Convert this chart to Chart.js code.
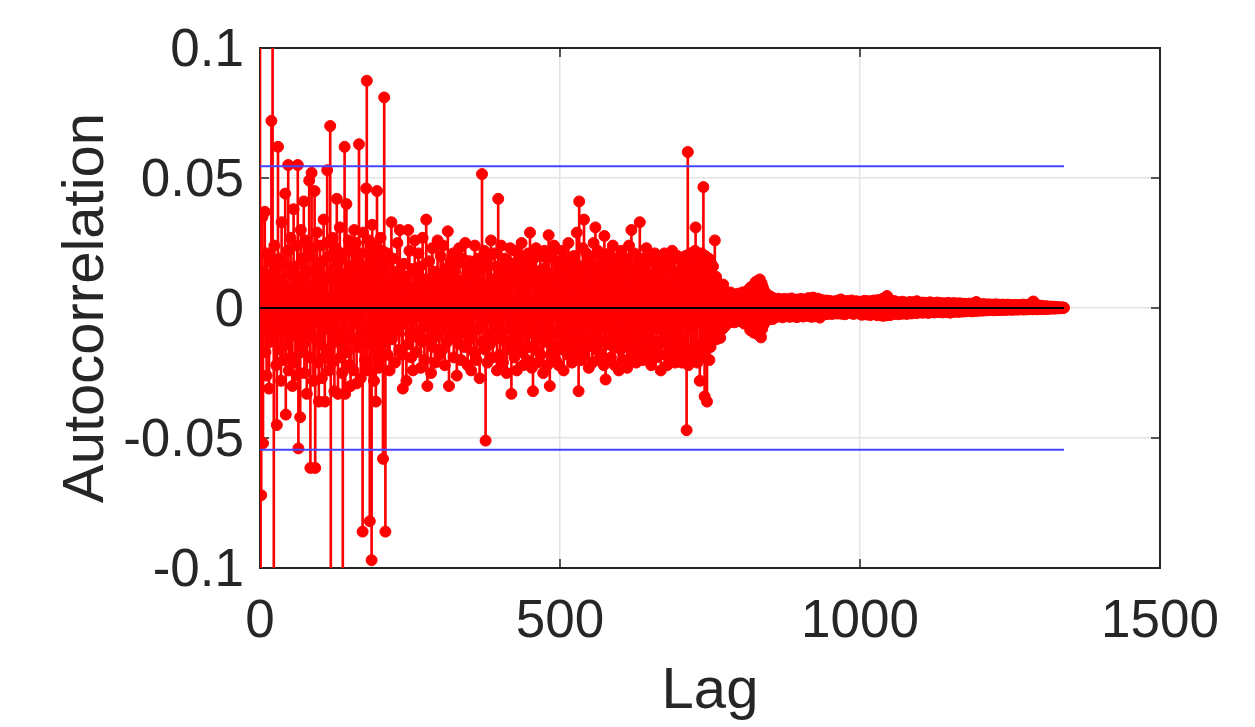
<!DOCTYPE html>
<html>
<head>
<meta charset="utf-8">
<script src="https://cdn.jsdelivr.net/npm/chart.js@4"></script>
<style>
	html, body { margin: 0; padding: 0; background: #fff; }
	canvas { display: block; }
</style>
</head>
<body>
<canvas id="acfChart" width="1255" height="727"></canvas>
<script>
// sample autocorrelation, one value per lag (lag 0 first)
const acf = [
	// lag 0
	1.0, -0.45, -0.072, 0.011, 0.035, -0.052, 0.014, -0.008, 0.037, -0.017, 0.005, -0.026, 0.021, -0.004, 0.012, -0.031, 0.003, 0.018, -0.013, 0.072,
	// lag 20
	-0.009, 0.14, 0.010, -0.13, 0.024, -0.003, 0.015, -0.022, -0.045, 0.006, 0.062, -0.016, 0.019, -0.002, 0.011, -0.028, 0.033, -0.009, 0.004, -0.020,
	// lag 40
	0.017, -0.006, 0.044, -0.041, 0.008, -0.014, 0.022, 0.055, -0.024, 0.002, -0.011, 0.027, -0.019, 0.013, -0.030, 0.005, 0.038, -0.008, 0.016, -0.021,
	// lag 60
	0.009, -0.026, 0.024, 0.055, -0.054, 0.012, -0.004, -0.042, 0.030, -0.010, 0.019, -0.017, 0.003, 0.041, -0.025, 0.007, -0.013, 0.026, -0.033, 0.014,
	// lag 80
	-0.007, 0.020, 0.049, -0.019, -0.0615, 0.008, 0.052, -0.011, 0.023, -0.028, 0.005, 0.045, -0.0615, 0.013, -0.005, 0.029, -0.021, 0.010, -0.036, 0.016,
	// lag 100
	0.024, -0.014, 0.007, -0.027, 0.018, -0.002, 0.034, -0.019, -0.036, 0.012, -0.008, 0.025, 0.053, -0.016, 0.004, -0.024, 0.020, 0.070, -0.12, 0.011,
	// lag 120
	-0.021, 0.027, -0.006, 0.015, -0.032, 0.008, 0.023, -0.013, 0.042, -0.009, -0.033, 0.018, -0.003, 0.031, -0.019, 0.006, 0.021, -0.025, -0.115, 0.013,
	// lag 140
	-0.010, 0.062, -0.033, 0.004, 0.040, -0.017, 0.011, -0.004, 0.026, -0.022, 0.016, -0.030, 0.007, 0.022, -0.012, 0.003, -0.024, 0.030, -0.006, 0.014,
	// lag 160
	0.025, -0.029, 0.009, -0.015, 0.018, 0.063, -0.011, 0.005, -0.027, 0.021, 0.013, -0.086, 0.029, -0.008, 0.016, -0.020, 0.004, 0.046, 0.0874, -0.024,
	// lag 180
	0.011, -0.014, 0.026, -0.082, 0.006, 0.018, -0.097, 0.032, -0.010, 0.022, -0.028, 0.004, 0.024, -0.036, 0.014, 0.045, -0.016, 0.008, -0.023, 0.020,
	// lag 200
	-0.006, 0.027, -0.019, 0.012, 0.022, -0.058, 0.007, 0.081, -0.013, -0.086, 0.017, -0.009, 0.021, -0.018, 0.005, 0.019, -0.024, 0.010, -0.007, 0.033,
	// lag 220
	-0.012, 0.004, 0.019, -0.006, 0.011, -0.021, 0.008, -0.003, 0.014, 0.025, -0.009, 0.002, -0.016, 0.030, -0.007, 0.013, 0.005, -0.018, -0.031, 0.010,
	// lag 240
	0.017, -0.005, 0.003, 0.012, -0.028, 0.009, -0.014, 0.030, -0.002, 0.022, -0.010, 0.006, -0.019, 0.001, 0.015, -0.024, 0.007, -0.004, 0.026, -0.011,
	// lag 260
	0.008, -0.017, 0.013, -0.002, 0.021, 0.004, -0.009, 0.016, -0.023, 0.006, -0.013, 0.027, 0.003, -0.007, -0.020, 0.011, -0.004, 0.034, 0.009, -0.030,
	// lag 280
	0.005, -0.012, 0.018, 0.002, -0.006, -0.025, 0.010, 0.023, -0.015, 0.004, -0.008, 0.014, -0.021, 0.007, 0.001, -0.011, 0.026, -0.005, 0.012, -0.018,
	// lag 300
	0.009, 0.020, -0.003, 0.006, -0.016, 0.024, -0.008, 0.002, -0.022, 0.015, -0.005, 0.011, -0.013, 0.0295, 0.004, -0.030, 0.013, -0.002, 0.018, -0.010,
	// lag 320
	0.003, -0.007, 0.021, -0.019, 0.008, 0.014, -0.004, 0.001, -0.026, 0.017, -0.011, 0.005, 0.023, -0.014, 0.010, -0.020, 0.006, -0.003, 0.019, -0.009,
	// lag 340
	0.011, -0.015, 0.025, -0.006, 0.002, 0.013, -0.022, 0.008, -0.004, 0.018, -0.012, 0.003, -0.024, 0.016, 0.007, -0.009, 0.012, -0.017, 0.024, -0.002,
	// lag 360
	0.014, -0.020, 0.004, 0.019, -0.008, 0.010, -0.027, 0.006, -0.001, 0.015, 0.0515, -0.013, 0.009, -0.005, 0.022, -0.016, -0.051, 0.003, 0.017, -0.021,
	// lag 380
	0.007, -0.004, 0.020, -0.014, 0.002, 0.026, -0.010, 0.011, -0.019, 0.005, -0.003, 0.021, -0.012, 0.008, 0.016, -0.024, 0.010, 0.042, -0.007, 0.013,
	// lag 400
	-0.018, 0.006, 0.024, -0.011, 0.003, -0.021, 0.015, -0.002, 0.019, -0.013, 0.009, -0.025, 0.004, 0.018, -0.008, 0.012, -0.016, 0.023, -0.005, -0.033,
	// lag 420
	0.010, 0.017, -0.012, 0.002, -0.019, 0.022, -0.006, 0.013, -0.024, 0.015, 0.003, -0.014, 0.020, -0.009, 0.006, -0.017, 0.025, -0.004, 0.011, -0.022,
	// lag 440
	0.008, -0.011, 0.018, -0.002, 0.014, -0.020, 0.005, 0.021, -0.015, 0.009, 0.029, -0.007, 0.016, -0.023, 0.003, -0.032, 0.019, -0.010, 0.012, -0.016,
	// lag 460
	0.023, -0.005, 0.009, -0.021, 0.014, -0.012, 0.002, 0.020, -0.018, 0.011, -0.006, 0.015, -0.025, 0.007, 0.022, -0.013, 0.010, -0.008, 0.019, -0.022,
	// lag 480
	0.006, 0.028, -0.011, -0.030, 0.013, -0.004, 0.021, -0.017, 0.008, -0.014, 0.024, -0.003, 0.012, -0.020, 0.005, 0.018, -0.010, 0.004, -0.022, 0.015,
	// lag 500
	-0.008, 0.011, -0.016, 0.022, -0.004, 0.007, -0.024, 0.015, 0.003, -0.012, 0.019, -0.009, 0.006, -0.018, 0.025, -0.005, 0.013, -0.014, 0.009, 0.018,
	// lag 520
	-0.021, 0.004, -0.011, 0.020, -0.006, 0.014, -0.017, 0.010, 0.029, -0.013, 0.005, -0.032, 0.041, -0.008, 0.016, -0.020, 0.012, -0.003, 0.023, -0.012,
	// lag 540
	0.034, -0.018, 0.008, -0.006, 0.021, -0.015, 0.003, 0.017, -0.023, 0.011, -0.005, 0.019, -0.012, 0.006, -0.021, 0.014, 0.025, -0.009, 0.004, 0.031,
	// lag 560
	-0.016, 0.012, -0.007, 0.022, -0.020, 0.005, 0.016, -0.013, 0.010, -0.018, 0.020, -0.003, 0.013, -0.022, 0.0277, -0.008, -0.0275, 0.011, -0.005, 0.017,
	// lag 580
	-0.014, 0.006, 0.021, -0.010, 0.004, -0.019, 0.015, -0.006, 0.024, -0.015, 0.009, -0.022, 0.012, 0.002, -0.012, 0.019, -0.008, 0.016, -0.024, 0.005,
	// lag 600
	0.013, -0.016, 0.022, -0.004, 0.010, -0.020, 0.017, -0.011, 0.003, 0.019, -0.014, 0.007, -0.023, 0.013, -0.006, 0.024, -0.012, 0.005, -0.019, 0.030,
	// lag 620
	-0.009, 0.015, -0.016, 0.008, 0.021, -0.007, 0.012, -0.021, 0.004, -0.013, 0.018, -0.005, 0.014, 0.033, -0.017, 0.009, -0.010, 0.019, -0.020, 0.006,
	// lag 640
	0.016, -0.014, 0.007, -0.006, 0.023, -0.019, 0.011, 0.004, -0.015, 0.020, -0.009, 0.013, -0.022, 0.005, 0.018, -0.013, 0.008, -0.017, 0.021, -0.004,
	// lag 660
	0.012, -0.019, 0.016, -0.008, 0.003, 0.020, -0.014, 0.010, -0.024, 0.013, -0.005, 0.017, -0.012, 0.007, 0.021, -0.018, 0.004, -0.010, 0.015, -0.022,
	// lag 680
	0.009, 0.018, -0.013, 0.005, -0.019, 0.015, -0.007, 0.022, -0.016, 0.010, -0.004, 0.019, -0.021, 0.012, 0.003, -0.014, 0.020, -0.009, 0.006, -0.018,
	// lag 700
	0.014, -0.012, 0.019, -0.021, 0.007, 0.016, -0.015, 0.011, -0.006, 0.020, -0.019, -0.047, 0.012, 0.060, -0.022, 0.015, -0.008, 0.021, -0.016, 0.009,
	// lag 720
	-0.020, 0.017, -0.007, 0.012, -0.018, 0.022, 0.031, -0.014, 0.008, -0.021, 0.016, -0.005, 0.019, -0.028, 0.010, -0.015, 0.021, -0.019, 0.013, 0.0465,
	// lag 740
	-0.016, -0.034, 0.020, -0.012, 0.015, -0.036, 0.018, -0.013, 0.019, -0.020, 0.012, -0.015, 0.017, -0.010, 0.008, 0.016, -0.012, 0.006, 0.026, -0.009,
	// lag 760
	0.012, -0.012, 0.010, -0.008, 0.009, -0.010, 0.007, -0.0115, 0.008, -0.006, 0.007, -0.008, 0.009, -0.005, 0.006, -0.007, 0.005, -0.006, 0.006, -0.004,
	// lag 780
	0.005, -0.005, 0.004, -0.0055, 0.006, -0.003, 0.0045, -0.005, 0.005, -0.004, 0.0035, -0.0055, 0.005, -0.003, 0.004, -0.005, 0.0055, -0.004, 0.003, -0.0045,
	// lag 800
	0.005, -0.004, 0.0035, -0.005, 0.006, -0.0035, 0.0045, -0.006, 0.005, -0.004, 0.006, -0.005, 0.0065, -0.0045, 0.007, -0.006, 0.0055, -0.0085, 0.008, -0.006,
	// lag 820
	0.0075, -0.007, 0.0085, -0.0095, 0.009, -0.008, 0.010, -0.0085, 0.0095, -0.010, 0.0105, -0.009, 0.009, 0.011, -0.0105, -0.0113, 0.0095, -0.008, 0.008, -0.0065,
	// lag 840
	0.0065, -0.0055, 0.006, -0.005, 0.0045, -0.004, 0.005, -0.0045, 0.004, -0.0035, 0.0045, -0.004, 0.0038, -0.003, 0.004, -0.0042, 0.0035, -0.0028, 0.003, -0.0035,
	// lag 860
	0.0032, -0.0025, 0.0028, -0.0033, 0.0036, -0.002, 0.0025, -0.003, 0.0033, -0.0028, 0.0022, -0.0036, 0.003, -0.0018, 0.0035, -0.0027, 0.0026, -0.0031, 0.002, -0.0024,
	// lag 880
	0.0034, -0.0022, 0.0029, -0.0034, 0.0024, -0.0019, 0.0037, -0.0028, 0.0021, -0.0032, 0.0027, -0.0015, 0.0031, -0.0026, 0.0019, -0.0035, 0.0033, -0.0021, 0.0025, -0.003,
	// lag 900
	0.0029, -0.0024, 0.0035, -0.0018, 0.0022, -0.0033, 0.0031, -0.0027, 0.0017, -0.0022, 0.0034, -0.0029, 0.0026, -0.0016, 0.0038, -0.0031, 0.0023, -0.0025, 0.003, -0.0034,
	// lag 920
	0.0027, -0.002, 0.0040, -0.0028, 0.0021, -0.0032, 0.0033, -0.0017, 0.0025, -0.003, 0.0036, -0.0023, 0.0019, -0.0037, 0.0028, -0.0021, 0.0031, -0.0026, 0.0022, -0.0019,
	// lag 940
	0.0026, -0.0018, 0.0021, -0.0024, 0.0029, -0.0014, 0.0018, -0.0022, 0.0024, -0.0012, 0.0027, -0.002, 0.0016, -0.0023, 0.0022, -0.0011, 0.0025, -0.0019, 0.0014, -0.0021,
	// lag 960
	0.0023, -0.0015, 0.0028, -0.0021, 0.0017, -0.0013, 0.0024, -0.0018, 0.0033, -0.0022, 0.0015, -0.0016, 0.0026, -0.0011, 0.0021, -0.0024, 0.0018, -0.0014, 0.0027, -0.0019,
	// lag 980
	0.002, -0.0012, 0.0025, -0.002, 0.0016, -0.0017, 0.0029, -0.0013, 0.0019, -0.0023, 0.0024, -0.0015, 0.0017, -0.0019, 0.0026, -0.001, 0.0022, -0.0021, 0.0018, -0.0016,
	// lag 1000
	0.0023, -0.0018, 0.0017, -0.0026, 0.0025, -0.0014, 0.002, -0.0022, 0.0028, -0.0017, 0.0015, -0.0025, 0.0023, -0.0012, 0.0026, -0.002, 0.0019, -0.0027, 0.0022, -0.0015,
	// lag 1020
	0.0027, -0.0021, 0.0018, -0.0016, 0.0029, -0.0024, 0.0021, -0.0013, 0.0025, -0.0028, 0.003, -0.0019, 0.0024, -0.0022, 0.0032, -0.0017, 0.0026, -0.0029, 0.0035, -0.003,
	// lag 1040
	0.0031, -0.0021, 0.0038, -0.0026, 0.0042, 0.0046, -0.0028, 0.0039, -0.0023, 0.0033, -0.0027, 0.0028, -0.0019, 0.0025, -0.0024, 0.0021, -0.0016, 0.0027, -0.0022, 0.0018,
	// lag 1060
	-0.0021, 0.0023, -0.0014, 0.002, -0.0024, 0.0017, -0.0018, 0.0022, -0.0013, 0.0019, -0.0022, 0.0024, -0.0016, 0.0015, -0.002, 0.0021, -0.0011, 0.0018, -0.0023, 0.0016,
	// lag 1080
	-0.0017, 0.002, -0.0012, 0.0023, -0.0019, 0.0014, -0.0021, 0.0019, -0.0015, 0.0022, -0.0018, 0.0017, -0.001, 0.0024, -0.002, 0.0026, -0.0014, 0.0018, -0.0017, 0.0015,
	// lag 1100
	-0.0016, 0.0019, -0.0011, 0.0016, -0.0018, 0.0021, -0.0013, 0.0014, -0.0017, 0.0018, -0.0009, 0.002, -0.0015, 0.0013, -0.0019, 0.0017, -0.0012, 0.0022, -0.0014, 0.0012,
	// lag 1120
	-0.0016, 0.0018, -0.001, 0.0015, -0.0017, 0.0019, -0.0012, 0.0014, -0.0015, 0.0021, -0.0011, 0.0013, -0.0016, 0.0017, -0.0009, 0.0019, -0.0014, 0.0012, -0.0017, 0.0016,
	// lag 1140
	-0.0011, 0.0018, -0.0013, 0.0014, -0.0016, 0.0015, -0.001, 0.002, -0.0012, 0.0013, -0.0018, 0.0016, -0.0009, 0.0017, -0.0014, 0.0011, -0.0015, 0.0019, -0.0011, 0.0014,
	// lag 1160
	-0.0013, 0.0016, -0.001, 0.0012, -0.0015, 0.0018, -0.0012, 0.0013, -0.0008, 0.0017, -0.0014, 0.0011, -0.0012, 0.0015, -0.0009, 0.0016, -0.0013, 0.001, -0.0011, 0.0014,
	// lag 1180
	-0.0012, 0.0015, -0.0008, 0.0017, -0.0011, 0.0012, -0.0013, 0.0016, -0.0009, 0.0014, -0.0012, 0.0019, -0.001, 0.0021, 0.0023, -0.0011, 0.0015, -0.0008, 0.0013, -0.001,
	// lag 1200
	0.0012, -0.0009, 0.0014, -0.0007, 0.0011, -0.001, 0.0015, -0.0006, 0.0012, -0.0008, 0.0013, -0.0009, 0.001, -0.0007, 0.0014, -0.0005, 0.0011, -0.0008, 0.0012, -0.0006,
	// lag 1220
	0.0013, -0.0007, 0.001, -0.0009, 0.0012, -0.0005, 0.0014, -0.0008, 0.0011, -0.0006, 0.0013, -0.0007, 0.0009, -0.0008, 0.0012, -0.0004, 0.001, -0.0006, 0.0013, -0.0007,
	// lag 1240
	0.0011, -0.0005, 0.0012, -0.0007, 0.0009, -0.0006, 0.0013, -0.0004, 0.001, -0.0006, 0.0012, -0.0005, 0.0008, -0.0007, 0.0011, -0.0004, 0.001, -0.0005, 0.0012, -0.0006,
	// lag 1260
	0.0009, -0.0004, 0.0011, -0.0006, 0.0008, -0.0005, 0.0012, -0.0003, 0.001, -0.0005, 0.0009, -0.0004, 0.0013, -0.0006, 0.0008, -0.0003, 0.0011, -0.0005, 0.0009, -0.0004,
	// lag 1280
	0.0012, -0.0005, 0.0008, -0.0003, 0.0014, -0.0004, 0.0018, 0.0022, -0.0005, 0.0025, 0.0019, -0.0004, 0.0011, -0.0003, 0.0009, -0.0005, 0.0008, -0.0002, 0.001, -0.0004,
	// lag 1300
	0.0007, -0.0003, 0.0008, -0.0004, 0.0006, -0.0002, 0.0007, -0.0003, 0.0005, -0.0003, 0.0006, -0.0002, 0.0005, -0.0003, 0.0006, -0.0002, 0.0004, -0.0002, 0.0005, -0.0001,
	// lag 1320
	0.0004, -0.0002, 0.0005, -0.0001, 0.0003, -0.0002, 0.0004, -0.0001, 0.0003, -0.0001, 0.0003, -0.0001, 0.0002, -0.0001, 0.0002, 0.0001, 0.0002, -0.0001, 0.0001, 0.0001,
	// lag 1340
	0.0001,
];
const lags = acf.map((v, i) => i);

// confidence bounds (two horizontal lines) and stem baseline
const boundLags = [0, 1340];
const upperBound = [0.0545, 0.0545];
const lowerBound = [-0.0545, -0.0545];
const baseline = [0, 0];

const xTickValues = [0, 500, 1000, 1500];
const xTickLabels = ["0", "500", "1000", "1500"];
const yTickValues = [-0.1, -0.05, 0, 0.05, 0.1];
const yTickLabels = ["-0.1", "-0.05", "0", "0.05", "0.1"];

const axisColor = "#262626";
const fontFamily = "'Liberation Sans', Arial, Helvetica, sans-serif";

const stemPoints = lags.map((lag, i) => ({ x: lag, y: acf[i] }));
const toLine = (ys) => boundLags.map((lag, i) => ({ x: lag, y: ys[i] }));

// box round the axes and MATLAB-like inward tick marks (under the data)
const axesBox = {
	id: "axesBox",
	beforeDatasetsDraw(chart) {
		const { ctx, chartArea: { top, bottom, left, right }, scales: { x, y } } = chart;
		const len = 9;
		ctx.save();
		ctx.strokeStyle = axisColor;
		ctx.lineWidth = 1.5;
		ctx.beginPath();
		xTickValues.forEach((v) => {
			const px = x.getPixelForValue(v);
			ctx.moveTo(px, bottom);
			ctx.lineTo(px, bottom - len);
			ctx.moveTo(px, top);
			ctx.lineTo(px, top + len);
		});
		yTickValues.forEach((v) => {
			const py = y.getPixelForValue(v);
			ctx.moveTo(left, py);
			ctx.lineTo(left + len, py);
			ctx.moveTo(right, py);
			ctx.lineTo(right - len, py);
		});
		ctx.stroke();
		ctx.lineWidth = 2;
		ctx.strokeRect(left, top, right - left, bottom - top);
		ctx.restore();
	},
};

const config = {
	type: "bar",
	data: {
		datasets: [
			{
				type: "bar",
				data: stemPoints,
				backgroundColor: "#ff0000",
				barThickness: 2,
				order: 3,
			},
			{
				type: "line",
				data: stemPoints,
				showLine: false,
				pointRadius: 5.5,
				pointBorderWidth: 1,
				pointBackgroundColor: "#ff0000",
				pointBorderColor: "#ff0000",
				order: 2,
			},
			{
				type: "line",
				data: toLine(baseline),
				borderColor: "#000000",
				borderWidth: 2,
				pointRadius: 0,
				order: 1,
			},
			{
				type: "line",
				data: toLine(upperBound),
				borderColor: "#4545ff",
				borderWidth: 2,
				pointRadius: 0,
				order: 0,
			},
			{
				type: "line",
				data: toLine(lowerBound),
				borderColor: "#4545ff",
				borderWidth: 2,
				pointRadius: 0,
				order: 0,
			},
		],
	},
	options: {
		responsive: false,
		animation: false,
		events: [],
		layout: {
			padding: { top: 48, right: 95, bottom: 0, left: 0 },
		},
		scales: {
			x: {
				type: "linear",
				min: 0,
				max: 1500,
				offset: false,
				grid: {
					offset: false,
					color: "#e3e3e3",
					lineWidth: 1.5,
					drawTicks: false,
				},
				border: { display: false },
				ticks: {
					color: axisColor,
					font: { family: fontFamily, size: 53 },
					padding: 23,
					maxRotation: 0,
					autoSkip: false,
					callback: (value, index) => xTickLabels[index],
				},
				afterBuildTicks: (scale) => {
					scale.ticks = xTickValues.map((v) => ({ value: v }));
				},
				afterFit: (scale) => {
					scale.height = 159;
				},
				title: {
					display: true,
					text: "Lag",
					color: axisColor,
					font: { family: fontFamily, size: 58 },
					padding: { top: 0, bottom: 0 },
				},
			},
			y: {
				type: "linear",
				min: -0.1,
				max: 0.1,
				grid: {
					color: "#e3e3e3",
					lineWidth: 1.5,
					drawTicks: false,
				},
				border: { display: false },
				ticks: {
					color: axisColor,
					font: { family: fontFamily, size: 53 },
					padding: 16,
					labelOffset: 3,
					autoSkip: false,
					callback: (value, index) => yTickLabels[index],
				},
				afterBuildTicks: (scale) => {
					scale.ticks = yTickValues.map((v) => ({ value: v }));
				},
				afterFit: (scale) => {
					scale.width = 260;
				},
				title: {
					display: true,
					text: "Autocorrelation",
					color: axisColor,
					font: { family: fontFamily, size: 58 },
					padding: { top: 52, bottom: 0 },
				},
			},
		},
		plugins: {
			legend: { display: false },
			tooltip: { enabled: false },
		},
	},
	plugins: [axesBox],
};

new Chart(document.getElementById("acfChart"), config);
</script>
</body>
</html>
